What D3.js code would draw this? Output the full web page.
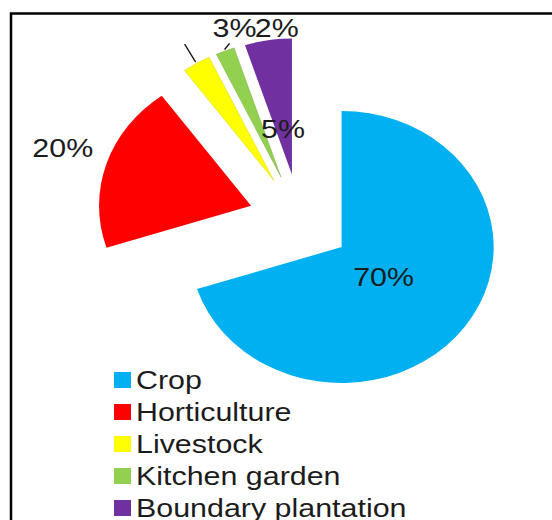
<!DOCTYPE html>
<html>
<head>
<meta charset="utf-8">
<script src="https://cdn.jsdelivr.net/npm/d3@7"></script>
<style>
  html, body { margin: 0; padding: 0; background: #fff; }
  svg { display: block; }
  text { font-family: "Liberation Sans", Arial, sans-serif; fill: #1c1c1c; }
</style>
</head>
<body>
<svg id="chart" width="552" height="520"></svg>
<script>
// Land use share (%)
const categories = ["Crop", "Horticulture", "Livestock", "Kitchen garden", "Boundary plantation"];
const shares = [70, 20, 3, 2, 5];
const labels = ["70%", "20%", "3%", "2%", "5%"];
const colors = ["#00b0f0", "#ff0000", "#ffff00", "#92d050", "#7030a0"];

const svg = d3.select("#chart");
const W = 552, H = 520;

// picture is a little stretched sideways, so the pie is too
const sx = 1.118;
const cx = 300, cy = 220;
const r = 136;
const explode = 46;
const fontSize = 26;
const textStretch = 1.17;

// frame (only top + left visible in the crop)
svg.append("path")
  .attr("d", `M${W},13.5 L11,13.5 L11,${H}`)
  .attr("fill", "none")
  .attr("stroke", "#000")
  .attr("stroke-width", 2.5);

const pie = d3.pie().sort(null).value((d) => d)(shares);
const arc = d3.arc().innerRadius(0).outerRadius(r);

const pieG = svg.append("g")
  .attr("transform", `translate(${cx},${cy}) scale(${sx},1)`);

// polar -> offset inside the unscaled pie space
const polar = (a, d) => [Math.sin(a) * d, -Math.cos(a) * d];
const toScreen = ([x, y]) => [cx + x * sx, cy + y];

pie.forEach((p, i) => {
  const mid = (p.startAngle + p.endAngle) / 2;
  const [ox, oy] = polar(mid, explode);
  pieG.append("path")
    .attr("d", arc(p))
    .attr("transform", `translate(${ox},${oy})`)
    .attr("fill", colors[i])
    .attr("stroke", i === 2 || i === 3 ? d3.color(colors[i]).darker(0.6) : "none")
    .attr("stroke-width", 0.4);
});

// label placement: angle (deg) and distance (fraction of r) from the slice tip
const labelPlace = [
  [127.9, 0.35],
  [289, 1.31],
  [347, 1.15],
  [358.5, 1.10],
  [350, 0.34],
];

pie.forEach((p, i) => {
  const mid = (p.startAngle + p.endAngle) / 2;
  const tip = polar(mid, explode);
  const [a, f] = labelPlace[i];
  const off = polar((a * Math.PI) / 180, f * r);
  const [x, y] = toScreen([tip[0] + off[0], tip[1] + off[1]]);
  svg.append("text")
    .attr("transform", `translate(${x},${y}) scale(${textStretch},1)`)
    .attr("text-anchor", "middle")
    .attr("dy", "0.36em")
    .attr("font-size", fontSize)
    .text(labels[i]);
});

// leader lines for the two thin slices
const leaders = [
  { i: 2, dx: -11, dy: -18 },
  { i: 3, dx: 5, dy: -6 },
];
leaders.forEach(({ i, dx, dy }) => {
  const p = pie[i];
  const mid = (p.startAngle + p.endAngle) / 2;
  const tip = polar(mid, explode);
  const edge = polar(mid, r * 1.01);
  const [x0, y0] = toScreen([tip[0] + edge[0], tip[1] + edge[1]]);
  svg.append("line")
    .attr("x1", x0).attr("y1", y0)
    .attr("x2", x0 + dx).attr("y2", y0 + dy)
    .attr("stroke", "#111")
    .attr("stroke-width", 1.3);
});

// legend (last row is cut by the bottom edge, as in the source)
const legendX = 114, legendY = 380, rowH = 32;
const leg = svg.append("g");
categories.forEach((c, i) => {
  const y = legendY + i * rowH;
  leg.append("rect")
    .attr("x", legendX)
    .attr("y", y - 8)
    .attr("width", 17)
    .attr("height", 16)
    .attr("fill", colors[i]);
  leg.append("text")
    .attr("transform", `translate(${legendX + 22},${y}) scale(${textStretch},1)`)
    .attr("dy", "0.36em")
    .attr("font-size", fontSize)
    .text(c);
});
</script>
</body>
</html>
